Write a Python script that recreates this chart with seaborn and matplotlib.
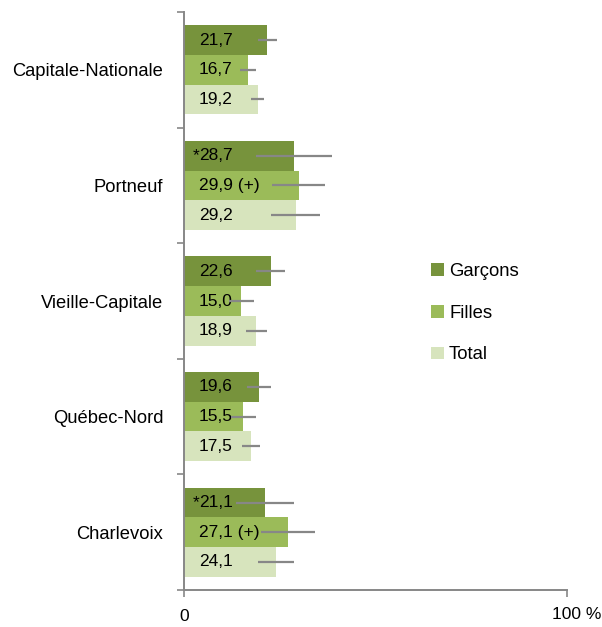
import matplotlib
matplotlib.use("Agg")
import matplotlib.pyplot as plt
import matplotlib.transforms as mtransforms
from matplotlib.patches import Patch
import seaborn as sns
import pandas as pd

# données
regions = ["Capitale-Nationale", "Portneuf", "Vieille-Capitale", "Québec-Nord", "Charlevoix"]
groupes = ["Garçons", "Filles", "Total"]

garcons = [21.7, 28.7, 22.6, 19.6, 21.1]
filles = [16.7, 29.9, 15.0, 15.5, 27.1]
total = [19.2, 29.2, 18.9, 17.5, 24.1]

garcons_err = [2.5, 9.9, 3.8, 3.2, 7.6]
filles_err = [2.2, 6.8, 3.3, 3.3, 7.1]
total_err = [1.7, 6.4, 2.7, 2.4, 4.7]

# * = à interpréter avec prudence, (+) = supérieur au reste du Québec
etoile = [[False, True, False, False, True],
          [False, False, False, False, False],
          [False, False, False, False, False]]
plus = [[False, False, False, False, False],
        [False, True, False, False, True],
        [False, False, False, False, False]]

couleurs = ["#77933C", "#9BBB59", "#D7E4BD"]
gris = "#878787"

sns.set_style("white", {"xtick.bottom": True, "ytick.left": True,
                        "text.color": "black", "xtick.color": "black",
                        "ytick.color": "black"})
plt.rcParams["font.family"] = ["Liberation Sans", "DejaVu Sans"]

valeurs = [garcons, filles, total]
erreurs = [garcons_err, filles_err, total_err]

df = pd.DataFrame({
    "region": regions * 3,
    "groupe": [g for g in groupes for _ in regions],
    "valeur": garcons + filles + total,
})

fig = plt.figure(figsize=(6.02, 6.27), dpi=100)
ax = fig.add_axes([184 / 602, 37 / 627, 383 / 602, 578 / 627])

sns.barplot(data=df, x="valeur", y="region", hue="groupe", order=regions,
            hue_order=groupes, palette=couleurs, saturation=1, orient="h",
            width=0.77, linewidth=0, errorbar=None, legend=False, ax=ax)

# étiquettes et barres d'erreur
decal = mtransforms.ScaledTranslation(15 / 100, 0, fig.dpi_scale_trans)
barres = list(ax.containers)
for k, cont in enumerate(barres):
    xs, ys = [], []
    for i, p in enumerate(cont.patches):
        yc = p.get_y() + p.get_height() / 2
        xs.append(p.get_width())
        ys.append(yc)
        txt = f"{valeurs[k][i]:.1f}".replace(".", ",")
        if plus[k][i]:
            txt += " (+)"
        ax.text(0, yc, txt, ha="left", va="center", fontsize=12.5,
                color="black", transform=ax.transData + decal)
        if etoile[k][i]:
            ax.text(0, yc, "*", ha="right", va="center", fontsize=12.5,
                    color="black", transform=ax.transData + decal)
    ax.errorbar(xs, ys, xerr=erreurs[k], fmt="none", ecolor=gris,
                elinewidth=1.6, capsize=0, zorder=3)

ax.set_xlim(0, 100)
ax.set_ylim(len(regions) - 0.5, -0.5)
ax.set_xlabel("")
ax.set_ylabel("")

ax.set_xticks([0, 100])
ax.set_xticklabels(["0", ""], fontsize=12.5)
ax.tick_params(axis="x", length=5, width=1.2, color=gris, pad=9,
               direction="out", labelcolor="black")
ax.annotate("100 %", xy=(100, 0), xycoords=("data", "axes fraction"),
            xytext=(-15, -17), textcoords="offset pixels",
            ha="left", va="top", fontsize=12.5, color="black", annotation_clip=False)

ax.set_yticks(range(len(regions)))
ax.set_yticklabels(regions, fontsize=13.2)
ax.set_yticks([i - 0.5 for i in range(len(regions) + 1)], minor=True)
ax.tick_params(axis="y", which="major", length=0, pad=15, labelcolor="black")
ax.tick_params(axis="y", which="minor", left=True, length=5, width=1.2,
               color=gris, direction="out")

for s in ["top", "right"]:
    ax.spines[s].set_visible(False)
for s in ["left", "bottom"]:
    ax.spines[s].set_color(gris)
    ax.spines[s].set_linewidth(1.4)

handles = [Patch(facecolor=c, edgecolor="none") for c in couleurs]
fig.legend(handles, groupes, loc="center left", bbox_to_anchor=(414 / 602, 1 - 313 / 627),
           frameon=False, fontsize=13.3, handlelength=0.7, handleheight=0.7,
           handletextpad=0.3, labelspacing=1.35)

fig.savefig("out.png", dpi=100)
